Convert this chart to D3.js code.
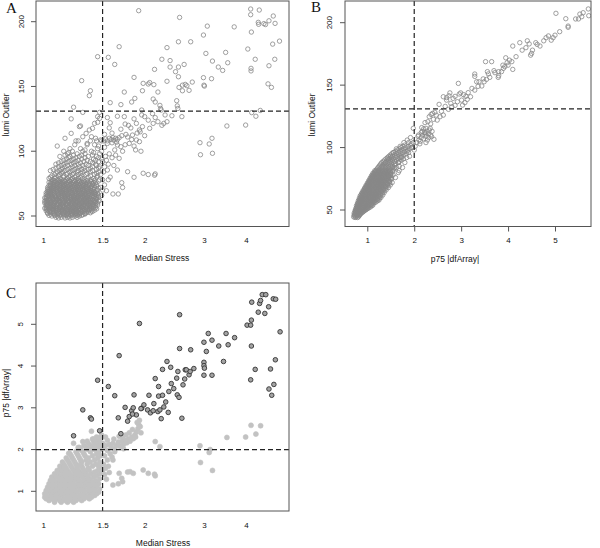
<!DOCTYPE html>
<html><head><meta charset="utf-8">
<script src="https://cdn.jsdelivr.net/npm/d3@7"></script>
<style>body{margin:0;background:#fff}svg{display:block}</style>
</head><body>
<svg id="c" width="600" height="548"></svg>
<script>
// ---------- DATA ----------
const xTicksStress = [1, 1.5, 2, 3, 4];
const yTicksLumi = [50, 100, 150, 200];
const xTicksP75 = [1, 2, 3, 4, 5];
const yTicksP75 = [1, 2, 3, 4, 5];
const thresholdStress = 1.5;
const thresholdLumi = 131;
const thresholdP75 = 2;

// Panel A: [median stress, lumi outlier] – sparse points
const aSparse = [[1.92,208.5],[2.54,203.3],[1.45,173],[1.56,172.5],[1.63,167],[1.68,180.7],[1.30,154.5],[1.38,146.7],[1.37,142.9],[1.86,157],[1.74,145.7],[1.83,138],[1.70,136],[1.58,137.5],[1.23,134],[1.31,130],[1.45,126.7],[1.47,130],[2.07,153],[2.13,151.4],[2.14,163.2],[2.25,171],[2.33,180],[2.38,170],[2.38,165],[2.47,161.4],[2.52,184.5],[2.74,184.5],[2.52,165],[2.62,167],[2.52,157.5],[2.59,151],[2.53,149.3],[2.64,151.6],[2.67,150.6],[2.71,147],[2.77,153.4],[2.59,146.7],[2.33,154],[2.19,145.7],[2.12,140.3],[2.15,138],[2.22,135.4],[2.23,133],[1.98,152.4],[2.05,151.9],[1.97,146.7],[1.87,140.8],[1.96,131.8],[2.49,139],[2.50,135],[2.51,133],[2.99,189.7],[3.07,196.6],[3.04,175.5],[3.18,169.6],[3.31,165],[3.41,162.4],[3.48,176.3],[3.53,168.3],[3.69,196],[2.99,156.8],[3.0,151],[3.01,150.3],[3.16,156],[4.05,178.9],[4.13,209.8],[4.13,205.4],[4.38,209],[4.15,192],[4.26,171],[4.14,164],[4.14,162],[4.35,199.5],[4.36,198],[4.52,198.5],[4.57,197.8],[4.68,200.7],[4.82,204.4],[4.88,198.7],[4.8,182.7],[4.87,171],[5.03,185],[4.68,166],[4.65,152],[4.76,149.3],[4.41,131.5],[4.16,129.8],[4.28,127],[2.92,106.6],[2.93,97.3],[3.11,105.6],[3.17,110],[3.18,98.4],[3.51,119.5],[3.99,120.2],[2.58,126.7],[2.25,120],[2.28,121.5],[2.41,127.4],[2.33,122.8],[1.98,83],[2.05,82],[2.14,81.5],[2.15,82.5],[1.86,79.9],[1.78,84.2],[1.71,75.7],[1.72,72],[1.61,67],[1.67,67],[1.54,69.5],[1.52,74],[1.56,78],[1.50,70],
[1.51,108],[1.53,109.5],[1.55,108],[1.57,110],[1.59,109],[1.61,110.5],[1.62,108.5],[1.64,110],[1.66,109],[1.68,110.5],[1.55,106],[1.60,106.5],[1.65,107],[1.47,62],[1.49,66],[1.48,72],[1.50,78],[1.51,84],[1.52,88],[1.50,92],[1.53,96],[1.49,100],[1.52,103],[1.55,85.5],[1.54,93],[1.57,98],[1.56,90],[1.58,80],[1.60,95],[1.62,89],[1.63,101],[1.64,97],[1.66,104.8],[1.66,85.5],[1.68,94.5],[1.70,103.5],[1.72,100],[1.75,105],[1.78,111],[1.80,106],[1.84,112.5],[1.82,118],[1.89,108.7],[1.93,107.4],[1.90,114],[1.94,115],[1.88,101],[1.95,100],[2.0,112],[1.97,119],[2.07,117.7],[2.12,121.5],[2.19,122.8],[1.93,116.4],[1.79,120],[1.74,126.7],[1.66,127],[1.89,121.5],[1.96,128],[2.0,126.7],[2.11,129],[2.24,131.8],[2.05,124],[2.15,126],[2.30,128],[1.86,125],[1.70,117],[1.75,121],[1.60,114],[1.57,118],[1.52,113],[1.58,122],[1.55,126],[1.83,109],[1.76,113],[1.71,112],[1.86,104],
[1.28,119],[1.21,113.8],[1.37,116.4],[1.42,121.5],[1.45,122.3],[1.47,125.4],[1.40,117.7],[1.34,113.8],[1.31,111.2],[1.39,111.2],[1.43,110],[1.48,108.7],[1.21,125],[1.29,119.5],[1.16,110],[1.25,108],[1.35,106],[1.46,104],[1.41,99],[1.33,101],[1.10,104],[1.19,99]];

// Panel A dense core: [lumi outlier, [median stress values]]
const aCoreRows = [
[48.5,[1.11,1.16,1.20]],
[49,[1.09,1.13,1.18,1.22,1.26]],
[50,[1.06,1.10,1.15,1.19,1.24,1.28]],
[50.5,[1.04,1.08,1.12,1.17,1.21,1.26,1.30]],
[51,[1.08,1.13,1.17,1.22,1.26,1.31]],
[51.5,[1.05,1.10,1.15,1.19,1.24,1.28,1.33]],
[52,[1.03,1.07,1.11,1.14,1.18,1.21,1.25,1.29,1.33]],
[52.5,[1.03,1.07,1.11,1.15,1.18,1.22,1.25,1.29,1.34,1.38]],
[53,[1.05,1.09,1.13,1.16,1.20,1.23,1.27,1.36]],
[53.5,[1.04,1.07,1.11,1.14,1.18,1.21,1.25,1.30,1.33,1.40]],
[54,[1.02,1.05,1.09,1.12,1.16,1.20,1.23,1.27,1.31,1.35,1.39]],
[54.5,[1.03,1.07,1.10,1.14,1.18,1.21,1.25,1.29,1.33,1.37,1.42]],
[55,[1.04,1.07,1.11,1.14,1.18,1.22,1.25,1.29,1.33,1.37]],
[55.5,[1.02,1.06,1.09,1.12,1.16,1.20,1.24,1.27,1.31,1.35,1.39,1.44]],
[56,[1.01,1.04,1.07,1.10,1.13,1.17,1.21,1.25,1.28,1.32,1.37,1.41]],
[56.5,[1.02,1.05,1.08,1.12,1.15,1.19,1.23,1.26,1.30,1.34,1.38,1.43]],
[57,[1.03,1.06,1.09,1.12,1.15,1.19,1.23,1.27,1.30,1.35,1.39]],
[57.5,[1.04,1.07,1.10,1.14,1.17,1.21,1.25,1.28,1.32,1.37,1.41]],
[58,[1.02,1.05,1.08,1.12,1.15,1.19,1.22,1.26,1.30,1.34,1.38,1.43]],
[58.5,[1.03,1.07,1.10,1.14,1.17,1.21,1.24,1.28,1.32,1.36,1.40,1.45]],
[59,[1.03,1.06,1.10,1.13,1.17,1.20,1.24,1.28,1.32,1.36,1.41]],
[59.5,[1.02,1.05,1.08,1.11,1.15,1.18,1.22,1.26,1.30,1.34,1.38,1.43]],
[60,[1.01,1.04,1.07,1.10,1.14,1.17,1.21,1.24,1.28,1.32,1.36,1.40,1.45]],
[60.5,[1.02,1.05,1.08,1.12,1.15,1.19,1.22,1.26,1.30,1.34,1.38,1.42]],
[61,[1.03,1.06,1.09,1.12,1.16,1.19,1.23,1.26,1.30,1.34,1.38,1.43]],
[61.5,[1.01,1.04,1.08,1.11,1.14,1.18,1.21,1.25,1.28,1.32,1.36,1.41,1.46]],
[62,[1.02,1.05,1.09,1.12,1.15,1.19,1.23,1.26,1.30,1.34,1.38,1.42]],
[62.5,[1.03,1.07,1.10,1.13,1.17,1.21,1.24,1.28,1.32,1.36,1.40,1.44]],
[63,[1.04,1.07,1.10,1.14,1.17,1.21,1.24,1.28,1.32,1.36,1.40]],
[63.5,[1.02,1.05,1.09,1.12,1.16,1.19,1.23,1.26,1.30,1.34,1.38,1.43]],
[64,[1.01,1.04,1.07,1.11,1.14,1.18,1.21,1.25,1.29,1.33,1.37,1.44]],
[64.5,[1.02,1.06,1.09,1.13,1.16,1.20,1.23,1.27,1.31,1.35,1.41,1.46]],
[65,[1.03,1.06,1.09,1.12,1.16,1.19,1.23,1.27,1.31,1.35,1.39,1.42]],
[65.5,[1.04,1.08,1.11,1.14,1.18,1.21,1.25,1.29,1.33,1.37,1.44]],
[66,[1.03,1.06,1.09,1.13,1.16,1.20,1.24,1.27,1.31,1.35,1.40,1.46]],
[66.5,[1.02,1.05,1.07,1.11,1.15,1.18,1.22,1.26,1.29,1.33,1.38,1.43]],
[67,[1.04,1.08,1.11,1.14,1.18,1.22,1.25,1.29,1.33,1.37,1.42]],
[67.5,[1.03,1.06,1.10,1.13,1.16,1.20,1.24,1.28,1.31,1.36,1.40,1.45]],
[68,[1.02,1.05,1.08,1.12,1.15,1.19,1.22,1.26,1.30,1.34,1.39,1.43]],
[68.5,[1.04,1.07,1.10,1.14,1.17,1.21,1.24,1.28,1.32,1.37,1.42]],
[69,[1.03,1.06,1.10,1.13,1.17,1.20,1.24,1.28,1.32,1.36,1.41]],
[69.5,[1.05,1.08,1.12,1.15,1.19,1.23,1.27,1.31,1.35,1.39,1.44]],
[70,[1.04,1.07,1.10,1.14,1.17,1.21,1.25,1.29,1.33,1.38,1.45]],
[70.5,[1.03,1.06,1.09,1.12,1.16,1.19,1.23,1.27,1.31,1.36,1.41]],
[71,[1.05,1.08,1.12,1.15,1.19,1.23,1.27,1.31,1.35,1.40]],
[71.5,[1.04,1.07,1.10,1.14,1.17,1.21,1.25,1.29,1.34,1.38,1.46]],
[72,[1.03,1.06,1.09,1.13,1.16,1.20,1.24,1.28,1.32,1.36,1.42]],
[72.5,[1.05,1.08,1.12,1.15,1.18,1.22,1.26,1.30,1.34,1.39]],
[73,[1.07,1.10,1.14,1.18,1.22,1.26,1.30,1.34,1.39,1.44]],
[73.5,[1.04,1.09,1.12,1.16,1.20,1.24,1.28,1.32,1.36,1.42]],
[74,[1.05,1.08,1.12,1.15,1.19,1.23,1.27,1.31,1.37,1.44]],
[74.5,[1.07,1.10,1.14,1.17,1.21,1.25,1.29,1.34,1.40]],
[75,[1.06,1.10,1.13,1.17,1.21,1.25,1.29,1.34,1.40]],
[75.5,[1.05,1.08,1.12,1.15,1.19,1.23,1.27,1.32,1.37,1.43]],
[76,[1.04,1.07,1.11,1.14,1.18,1.22,1.26,1.30,1.35,1.41]],
[76.5,[1.06,1.09,1.13,1.16,1.20,1.24,1.28,1.33,1.39]],
[77,[1.08,1.12,1.16,1.20,1.24,1.28,1.32,1.38,1.46]],
[77.5,[1.07,1.11,1.15,1.19,1.23,1.27,1.35,1.42]],
[78,[1.06,1.10,1.13,1.17,1.21,1.25,1.33,1.39,1.47]],
[79,[1.04,1.08,1.12,1.18,1.22,1.27,1.31,1.41]],
[80,[1.05,1.09,1.15,1.19,1.24,1.29,1.36,1.44]],
[81,[1.06,1.11,1.15,1.20,1.25,1.30,1.38,1.45]],
[82,[1.08,1.12,1.17,1.22,1.27,1.34,1.42,1.48]],
[83,[1.09,1.13,1.18,1.23,1.29,1.35,1.44]],
[84,[1.10,1.14,1.20,1.26,1.31,1.38,1.46]],
[85,[1.05,1.12,1.16,1.22,1.27,1.33,1.40]],
[86,[1.07,1.13,1.18,1.24,1.30,1.36,1.44]],
[87,[1.09,1.14,1.20,1.26,1.32,1.38,1.46]],
[88,[1.11,1.16,1.22,1.28,1.40,1.47]],
[89,[1.13,1.18,1.24,1.31,1.36,1.44]],
[90,[1.09,1.15,1.21,1.27,1.34,1.43]],
[91,[1.11,1.17,1.23,1.29,1.40]],
[92,[1.13,1.19,1.25,1.32,1.38,1.46]],
[93,[1.15,1.21,1.27,1.35,1.43]],
[94,[1.17,1.23,1.30,1.41,1.49]],
[95,[1.19,1.25,1.33,1.46]],
[96,[1.12,1.20,1.28,1.36,1.44]],
[97,[1.16,1.23,1.30,1.40]],
[98,[1.18,1.26,1.33,1.47]],
[100,[1.15,1.22,1.31,1.39]],
[102,[1.20,1.29,1.45]],
[105,[1.24,1.35,1.42]],
[108,[1.27,1.38,1.44,1.49]]];

// Panel B: [p75 |dfArray|, lumi outlier] – sparse points
const bSparse = [[5.02,207.5],[5.71,211],[5.72,205.6],[5.60,208],[5.53,206.9],[5.57,204.8],[5.50,203],[5.44,203],[5.23,203.2],[5.28,197.3],[5.28,196.3],[5.10,192.8],[4.96,188],[5.0,190],[4.86,189.4],[4.81,188],[4.76,185.5],[4.68,181.3],[4.59,184],[4.62,182.6],[4.52,178],[4.5,175.4],[4.48,174],[4.41,185.5],[4.25,184],[4.10,181.3],[4.38,180],[4.17,172.8],[4.08,168.8],[4.10,162.6],[4.0,166],[3.95,171.9],[3.93,164.8],[3.90,163.4],[3.86,160.8],[3.80,160.8],[3.79,156.2],[3.80,157.5],[3.70,161.6],[3.65,168.8],[3.52,168.8],[3.56,160.8],[3.61,156.2],[3.54,154.6],[3.49,152.7],[3.44,149.3],[3.38,152.7],[3.33,152.7],[3.29,158.9],[3.29,157],[3.29,146],[3.23,147.4],[3.15,144],[3.10,141],[3.05,142.4],[2.99,143.8],[2.94,151.4],[2.87,141],[2.76,143.8],[2.69,140],[2.92,136.7],[3.01,138],[3.13,138.6],[3.20,140.7],[3.03,134],[3.08,136],[3.36,149],[3.47,155],[3.58,159],[3.72,160],[3.89,166],[3.98,168],[4.03,170],[4.30,178],[4.45,183],[4.92,186],
[2.62,140.7],[2.74,141.5],[2.83,139.4],[2.96,142.9],[2.69,138],[2.78,135.4],[2.87,133.8],[2.53,134.6],[2.39,127.4],[2.44,128.2],[2.32,124.7],[2.41,122.6],[2.55,124.7],[2.62,126],[2.73,130.6],[2.80,132.7],[2.49,122],[2.29,120.7],[2.23,120],[2.25,115.4],[2.34,115.4],[2.37,108.7],[2.42,106.6],[2.16,116],[1.98,115.4],[2.09,110],[2.58,129],[2.66,133],[2.47,126],[2.35,119],[2.36,126.5],
[2.05,104],[2.10,106],[2.12,103],[2.15,108],[2.18,110],[2.20,107],[2.22,112],[2.25,109],[2.27,113],[2.30,111],[2.32,114],[2.28,106],[2.35,110],[2.15,112],[2.08,109],[2.38,113],[2.20,115],[2.25,104],[2.13,105],[2.17,113],[2.24,111],[2.31,108],[1.95,100],[1.68,81.5],[2.0,98],[1.90,93],[1.85,97],[1.55,96],[1.62,99],[1.70,101],[1.78,104],[1.85,106],[1.92,108],[1.50,93],[1.44,91],[1.38,88],[1.73,92],[1.58,84],[1.67,88],[2.02,101],[1.94,103]];

// Panel B dense core: [lumi outlier, [p75 values]]
const bCoreRows = [
[44,[0.74,0.79]],[44.5,[0.71,0.76,0.81]],[45.5,[0.73,0.78,0.83]],
[46,[0.72,0.77,0.82]],[46.5,[0.74,0.80,0.85]],
[47,[0.75,0.80,0.85]],[47.5,[0.72,0.77,0.82,0.87]],
[48,[0.74,0.79,0.84,0.89]],[48.5,[0.76,0.81,0.87,0.91]],
[49,[0.76,0.81,0.86,0.92]],[49.5,[0.74,0.78,0.83,0.88,0.94]],
[50,[0.75,0.80,0.85,0.90,0.96]],[50.5,[0.77,0.82,0.87,0.93,0.98]],
[51,[0.78,0.83,0.88,0.94,1.00]],[51.5,[0.76,0.80,0.85,0.91,0.96,1.02]],
[52,[0.77,0.82,0.87,0.92,0.98,1.04]],[52.5,[0.79,0.84,0.89,0.95,1.01,1.07]],
[53,[0.79,0.85,0.90,0.95,1.01]],[53.5,[0.77,0.82,0.87,0.92,0.98,1.04,1.10]],
[54,[0.79,0.84,0.89,0.94,1.00,1.06,1.12]],[54.5,[0.81,0.86,0.91,0.97,1.03,1.09]],
[55,[0.81,0.87,0.92,0.97,1.03,1.09]],[55.5,[0.79,0.84,0.89,0.94,1.00,1.06,1.13]],
[56,[0.81,0.86,0.91,0.97,1.03,1.09,1.16]],[56.5,[0.83,0.88,0.94,1.00,1.06,1.12,1.19]],
[57,[0.84,0.89,0.94,1.00,1.06,1.12]],[57.5,[0.81,0.86,0.91,0.97,1.03,1.09,1.15,1.22]],
[58,[0.83,0.88,0.93,0.99,1.05,1.11,1.18,1.25]],[58.5,[0.85,0.90,0.96,1.02,1.08,1.14,1.21]],
[59,[0.86,0.91,0.96,1.02,1.08,1.14,1.21]],[59.5,[0.83,0.88,0.93,0.99,1.05,1.11,1.17,1.26]],
[60,[0.85,0.90,0.96,1.02,1.08,1.14,1.21,1.29]],[60.5,[0.87,0.93,0.99,1.05,1.11,1.17,1.25]],
[61,[0.88,0.93,0.99,1.05,1.11,1.17,1.24]],[61.5,[0.85,0.90,0.96,1.02,1.08,1.14,1.20,1.29]],
[62,[0.87,0.93,0.99,1.05,1.11,1.17,1.24,1.33]],[62.5,[0.90,0.96,1.02,1.08,1.14,1.20,1.28]],
[63,[0.90,0.96,1.02,1.08,1.14,1.20,1.27]],[63.5,[0.88,0.93,0.99,1.05,1.11,1.17,1.23,1.32]],
[64,[0.90,0.96,1.02,1.08,1.14,1.20,1.27,1.36]],[64.5,[0.93,0.99,1.05,1.11,1.17,1.24,1.31]],
[65,[0.93,0.99,1.05,1.11,1.17,1.23,1.31]],[65.5,[0.91,0.96,1.02,1.08,1.14,1.20,1.27,1.36]],
[66,[0.93,0.99,1.05,1.11,1.17,1.23,1.31,1.40]],[66.5,[0.96,1.02,1.08,1.14,1.20,1.27,1.35]],
[67,[0.96,1.02,1.08,1.14,1.20,1.27,1.35]],[67.5,[0.94,0.99,1.05,1.11,1.17,1.23,1.30,1.40]],
[68,[0.96,1.02,1.08,1.14,1.20,1.26,1.34,1.45]],[68.5,[0.99,1.05,1.11,1.17,1.23,1.30,1.39]],
[69,[0.99,1.05,1.11,1.17,1.23,1.30,1.39]],[69.5,[0.97,1.02,1.08,1.14,1.20,1.26,1.34,1.44]],
[70,[0.99,1.05,1.11,1.17,1.23,1.30,1.38,1.49]],[70.5,[1.02,1.08,1.14,1.20,1.27,1.34,1.43]],
[71,[1.02,1.08,1.14,1.20,1.27,1.34,1.43]],[71.5,[1.00,1.05,1.11,1.17,1.23,1.30,1.38,1.48]],
[72,[1.02,1.08,1.14,1.20,1.26,1.33,1.42,1.53]],[72.5,[1.05,1.11,1.17,1.23,1.30,1.37,1.47]],
[73,[1.05,1.11,1.17,1.23,1.30,1.37,1.47]],[73.5,[1.03,1.08,1.14,1.20,1.27,1.34,1.42]],
[74,[1.05,1.11,1.17,1.23,1.30,1.37,1.46]],[74.5,[1.08,1.14,1.20,1.27,1.34,1.41,1.51]],
[75,[1.08,1.14,1.20,1.27,1.34,1.41,1.51]],[75.5,[1.06,1.11,1.17,1.24,1.31,1.38,1.46]],
[76,[1.08,1.14,1.20,1.27,1.34,1.41,1.51,1.60]],[76.5,[1.11,1.17,1.24,1.31,1.38,1.46]],
[77,[1.11,1.17,1.24,1.31,1.38,1.46]],[77.5,[1.09,1.14,1.21,1.28,1.35,1.42,1.50]],
[78,[1.11,1.17,1.24,1.31,1.38,1.45,1.55]],[78.5,[1.14,1.21,1.28,1.35,1.42,1.50]],
[79,[1.14,1.21,1.28,1.35,1.42,1.50]],[79.5,[1.12,1.18,1.25,1.32,1.39,1.46]],
[80,[1.15,1.21,1.28,1.35,1.42,1.50,1.66]],[80.5,[1.17,1.24,1.31,1.38,1.45]],
[81,[1.18,1.25,1.32,1.39,1.46,1.54]],[81.5,[1.16,1.22,1.29,1.36,1.43,1.50]],
[82,[1.19,1.25,1.32,1.39,1.46,1.55]],[83,[1.21,1.27,1.34,1.41,1.48,1.57]],
[84,[1.23,1.30,1.37,1.44,1.52,1.62,1.75]],[85,[1.25,1.32,1.39,1.46,1.54,1.68]],
[86,[1.27,1.34,1.41,1.49,1.58]],[87,[1.29,1.36,1.44,1.52,1.60]],
[88,[1.31,1.39,1.47,1.55,1.66,1.80]],[89,[1.34,1.42,1.50,1.58,1.68]],
[90,[1.37,1.45,1.53,1.62,1.72]],[91,[1.40,1.48,1.56,1.66,1.77]],
[92,[1.43,1.51,1.60,1.70,1.84]],[93,[1.46,1.54,1.63,1.73]],
[94,[1.49,1.58,1.68,1.78]],[95,[1.52,1.62,1.72,1.83]],
[96,[1.56,1.66,1.76,1.88]],[97,[1.60,1.70,1.80]],
[98,[1.64,1.74,1.86]],[99,[1.68,1.78,1.90]],
[100,[1.72,1.82,1.95]],[101,[1.76,1.87]],
[102,[1.80,1.92]],
[104,[1.88,1.98]]];

// Panel C: [median stress, p75 |dfArray|] – lumi outliers (dark)
const cOutliers = [[1.93,5.02],[2.54,5.23],[1.45,3.66],[1.56,3.51],[1.63,3.29],[1.68,4.25],[1.31,2.95],[1.38,2.76],[1.39,2.73],[1.23,2.33],[1.47,2.45],[1.70,2.38],[1.67,2.76],[1.75,3.01],[1.78,2.68],[1.80,2.79],[1.83,2.93],[1.86,3.31],[1.85,3.0],[1.89,2.83],[1.84,2.85],[1.96,2.99],[1.99,3.07],[2.04,2.95],[2.08,2.88],[2.06,3.30],[2.13,3.10],[2.15,3.70],[2.20,3.51],[2.20,3.28],[2.19,2.91],[2.24,2.74],[2.26,3.92],[2.26,3.30],[2.31,3.14],[2.33,4.11],[2.36,3.39],[2.39,3.97],[2.35,2.89],[2.40,3.58],[2.49,3.71],[2.50,3.31],[2.51,3.87],[2.53,3.25],[2.54,4.42],[2.58,2.75],[2.60,3.55],[2.63,3.69],[2.64,3.91],[2.66,3.91],[2.71,3.79],[2.74,4.39],[2.80,3.94],[2.73,3.87],[3.0,4.57],[3.0,4.09],[3.0,4.01],[3.01,3.95],[3.0,3.78],[3.05,4.35],[3.09,4.78],[3.17,4.62],[3.17,3.78],[3.32,4.48],[3.43,4.11],[3.49,4.78],[3.54,4.51],[3.70,4.68],[4.03,4.98],[4.13,4.98],[4.15,5.10],[4.16,5.53],[4.15,4.48],[4.13,3.67],[4.26,3.92],[4.35,5.29],[4.39,5.50],[4.42,5.57],[4.47,5.71],[4.58,5.71],[4.55,5.26],[4.67,5.42],[4.68,3.45],[4.77,3.30],[4.82,5.61],[4.90,5.60],[4.84,3.56],[4.89,4.15],[4.73,3.93],[5.05,4.82],[2.22,2.95],[2.28,3.02],[1.95,2.98],[2.12,2.93],[2.44,3.46]];

// Panel C: non-outliers (light) – sparse points
const cSparse = [[2.92,2.09],[2.93,1.69],[3.11,1.93],[3.13,2.0],[3.18,1.50],[3.51,2.29],[3.99,2.30],[4.14,2.58],[4.28,2.37],[4.42,2.57],[2.15,2.19],[2.22,2.07],[1.98,1.51],[2.05,1.43],[2.14,1.41],[2.15,1.37],[1.85,1.43],[1.78,1.46],[1.71,1.31],[1.72,1.23],[1.61,1.15],[1.67,1.18],[1.54,1.29],
[1.51,2.05],[1.53,2.10],[1.55,1.98],[1.57,2.12],[1.59,2.06],[1.61,2.15],[1.63,2.02],[1.65,2.10],[1.67,2.18],[1.69,2.08],[1.71,2.20],[1.73,2.12],[1.75,2.22],[1.77,2.16],[1.79,2.25],[1.81,2.20],[1.83,2.30],[1.85,2.26],[1.87,2.35],[1.89,2.42],[1.91,2.50],[1.92,2.60],[1.94,2.55],[1.90,2.65],[1.93,2.70],[1.88,2.30],[1.95,2.40],[1.84,2.48],[1.80,2.40],[1.76,2.35],[1.72,2.30],[1.68,2.32],[1.62,2.25],[1.55,2.22],[1.53,2.30],[1.50,2.15],[1.58,1.90],[1.60,1.82],[1.52,1.85],[1.55,1.75],[1.51,1.65],[1.53,1.55],[1.57,1.45],[1.52,1.40],[1.50,1.50],[1.56,1.60],[1.61,1.75],[1.68,1.43],[1.81,1.47],[1.63,1.95],[1.47,2.20],[1.45,2.08],[1.43,2.14],[1.39,2.44],[1.23,2.15],[1.31,2.19],[1.19,1.91],[1.27,2.05],[1.35,2.02],[1.41,2.25],[1.49,2.35],[1.73,2.02]];

// Panel C dense core: [p75, [median stress values]]
const cCoreRows = [
[0.74,[1.08,1.13,1.18,1.23]],
[0.78,[1.04,1.08,1.12,1.16,1.20,1.25,1.30]],
[0.82,[1.02,1.06,1.10,1.14,1.18,1.22,1.27,1.32,1.37]],
[0.86,[1.01,1.04,1.08,1.12,1.16,1.20,1.24,1.29,1.34,1.39]],
[0.90,[1.02,1.06,1.10,1.14,1.18,1.22,1.26,1.31,1.36,1.42]],
[0.94,[1.01,1.04,1.08,1.12,1.16,1.20,1.24,1.28,1.33,1.38,1.44]],
[0.98,[1.03,1.06,1.10,1.14,1.18,1.22,1.26,1.30,1.35,1.40,1.46]],
[1.02,[1.02,1.05,1.09,1.13,1.17,1.21,1.25,1.29,1.33,1.38,1.43]],
[1.06,[1.04,1.07,1.11,1.15,1.19,1.23,1.27,1.31,1.36,1.41,1.47]],
[1.10,[1.03,1.06,1.10,1.14,1.18,1.22,1.26,1.30,1.34,1.39,1.44]],
[1.14,[1.05,1.08,1.12,1.16,1.20,1.24,1.28,1.33,1.37,1.42]],
[1.18,[1.04,1.07,1.11,1.15,1.19,1.23,1.27,1.31,1.36,1.41,1.46]],
[1.22,[1.06,1.09,1.13,1.17,1.21,1.25,1.30,1.34,1.39,1.45]],
[1.26,[1.05,1.08,1.12,1.16,1.20,1.24,1.28,1.33,1.38,1.43]],
[1.30,[1.07,1.11,1.15,1.19,1.23,1.27,1.32,1.37,1.47]],
[1.34,[1.06,1.10,1.14,1.18,1.22,1.26,1.31,1.36,1.41]],
[1.38,[1.09,1.13,1.17,1.21,1.25,1.30,1.35,1.44]],
[1.42,[1.08,1.12,1.16,1.20,1.25,1.29,1.34,1.39,1.47]],
[1.46,[1.11,1.15,1.19,1.24,1.28,1.33,1.42]],
[1.50,[1.10,1.14,1.18,1.23,1.27,1.32,1.37,1.45]],
[1.55,[1.13,1.17,1.22,1.26,1.31,1.36,1.48]],
[1.60,[1.12,1.16,1.21,1.26,1.30,1.40,1.46]],
[1.65,[1.15,1.20,1.25,1.29,1.35,1.43]],
[1.70,[1.14,1.19,1.24,1.30,1.38,1.47]],
[1.75,[1.18,1.23,1.29,1.34,1.42]],
[1.80,[1.17,1.22,1.28,1.36,1.45]],
[1.85,[1.21,1.27,1.33,1.40,1.48]],
[1.90,[1.20,1.26,1.32,1.44]],
[1.95,[1.25,1.31,1.38,1.46]],
[2.00,[1.29,1.36,1.42,1.48]],
[2.05,[1.28,1.34,1.40,1.45]],
[2.10,[1.32,1.38,1.44,1.49]],
[2.15,[1.36,1.42,1.47]],
[2.20,[1.35,1.41,1.46]],
[2.25,[1.40,1.45]],
[2.30,[1.44,1.48]]];

// ---------- DRAW ----------
const svg = d3.select("#c");
const aPoints = aCoreRows.flatMap(([l, arr]) => arr.map(m => [m, l])).concat(aSparse);
const bPoints = bCoreRows.flatMap(([l, arr]) => arr.map(p => [p, l])).concat(bSparse);
const cLight = cCoreRows.flatMap(([p, arr]) => arr.map(m => [m, p])).concat(cSparse);

const tickFont = "Liberation Sans, Arial, sans-serif";

function panel(cfg) {
  const g = svg.append("g");
  const {box, x, y} = cfg;
  const clip = "clip" + cfg.id;
  g.append("clipPath").attr("id", clip).append("rect")
    .attr("x", box.l).attr("y", box.t).attr("width", box.r - box.l).attr("height", box.b - box.t);
  const pts = g.append("g").attr("clip-path", `url(#${clip})`);
  cfg.draw(pts);
  pts.append("line").attr("x1", x(cfg.vline)).attr("x2", x(cfg.vline)).attr("y1", box.t).attr("y2", box.b)
    .attr("stroke", "#222").attr("stroke-width", 1.2).attr("stroke-dasharray", "5,3");
  pts.append("line").attr("x1", box.l).attr("x2", box.r).attr("y1", y(cfg.hline)).attr("y2", y(cfg.hline))
    .attr("stroke", "#222").attr("stroke-width", 1.2).attr("stroke-dasharray", "5,3");
  g.append("rect").attr("x", box.l).attr("y", box.t).attr("width", box.r - box.l).attr("height", box.b - box.t)
    .attr("fill", "none").attr("stroke", "#555").attr("stroke-width", 1);

  const xa = d3.axisBottom(x).tickValues(cfg.xTicks).tickFormat(d => String(d))
    .tickSize(cfg.xTickMarks ? 5 : 0).tickPadding(cfg.xTickMarks ? 6 : 11);
  const gx = g.append("g").attr("transform", `translate(0,${box.b})`).call(xa);
  gx.select(".domain").remove();
  gx.selectAll("line").attr("stroke", "#555");
  gx.selectAll("text").attr("font-family", tickFont).attr("font-size", 8).attr("fill", "#111");

  const ya = d3.axisLeft(y).tickValues(cfg.yTicks).tickFormat(d => String(d)).tickSize(5).tickPadding(3);
  const gy = g.append("g").attr("transform", `translate(${box.l},0)`).call(ya);
  gy.select(".domain").remove();
  gy.selectAll("line").attr("stroke", "#555");
  gy.selectAll("text").attr("font-family", tickFont).attr("font-size", 8).attr("fill", "#111")
    .attr("text-anchor", "middle").attr("x", 0).attr("dy", 0)
    .attr("transform", function(d){ return `translate(${cfg.yLabelX - box.l},${y(d)}) rotate(-90)`; })
    .attr("y", 0);
  gy.selectAll(".tick").attr("transform", null);
  gy.selectAll(".tick line").attr("y1", d => y(d)).attr("y2", d => y(d));

  svg.append("text").attr("x", cfg.xTitle[0]).attr("y", cfg.xTitle[1]).attr("text-anchor", "middle")
    .attr("font-family", tickFont).attr("font-size", 8.5).attr("fill", "#111").text(cfg.xLabel);
  svg.append("text").attr("transform", `translate(${cfg.yTitle[0]},${cfg.yTitle[1]}) rotate(-90)`)
    .attr("text-anchor", "middle").attr("font-family", tickFont).attr("font-size", 8.5).attr("fill", "#111").text(cfg.yLabel);
  svg.append("text").attr("x", cfg.letter[0]).attr("y", cfg.letter[1])
    .attr("font-family", "Liberation Serif, Times New Roman, serif").attr("font-size", 15).attr("fill", "#111").text(cfg.id);
}

const ringStyle = sel => sel.attr("r", 2.2).attr("fill", "none").attr("stroke", "#888").attr("stroke-width", 0.8);

const boxA = {l: 36, r: 289, t: 1, b: 226.5};
const xA = d3.scaleLog().domain([1, 4]).range([43.3, 246]);
const yA = d3.scaleLinear().domain([50, 200]).range([216, 21.7]);
panel({id: "A", box: boxA, x: xA, y: yA, vline: thresholdStress, hline: thresholdLumi,
  xTicks: xTicksStress, yTicks: yTicksLumi, xTickMarks: false, yLabelX: 24,
  xLabel: "Median Stress", yLabel: "lumi Outlier", xTitle: [162, 261], yTitle: [9, 115], letter: [6, 13],
  draw: g => g.selectAll("circle").data(aPoints).join("circle")
    .attr("cx", d => xA(d[0])).attr("cy", d => yA(d[1])).call(ringStyle)});

const boxB = {l: 345, r: 591, t: 1, b: 226.5};
const xB = d3.scaleLinear().domain([1, 5]).range([367.3, 555]);
const yB = d3.scaleLinear().domain([50, 200]).range([210, 22.7]);
panel({id: "B", box: boxB, x: xB, y: yB, vline: thresholdP75, hline: thresholdLumi,
  xTicks: xTicksP75, yTicks: yTicksLumi, xTickMarks: true, yLabelX: 332,
  xLabel: "p75 |dfArray|", yLabel: "lumi Outlier", xTitle: [455, 262], yTitle: [315, 115], letter: [311, 12],
  draw: g => g.selectAll("circle").data(bPoints).join("circle")
    .attr("cx", d => xB(d[0])).attr("cy", d => yB(d[1])).call(ringStyle)});

const boxC = {l: 36, r: 289, t: 283, b: 511};
const xC = d3.scaleLog().domain([1, 4]).range([43.3, 246]);
const yC = d3.scaleLinear().domain([1, 5]).range([491.3, 324.3]);
panel({id: "C", box: boxC, x: xC, y: yC, vline: thresholdStress, hline: thresholdP75,
  xTicks: xTicksStress, yTicks: yTicksP75, xTickMarks: false, yLabelX: 23,
  xLabel: "Median Stress", yLabel: "p75 |dfArray|", xTitle: [163, 546], yTitle: [9, 393], letter: [6, 298],
  draw: g => {
    g.append("g").selectAll("circle").data(cLight).join("circle")
      .attr("cx", d => xC(d[0])).attr("cy", d => yC(d[1])).attr("r", 2.5)
      .attr("fill", "#c2c2c2").attr("stroke", "#c2c2c2").attr("stroke-width", 0.6);
    g.append("g").selectAll("circle").data(cOutliers).join("circle")
      .attr("cx", d => xC(d[0])).attr("cy", d => yC(d[1])).attr("r", 2.3)
      .attr("fill", "#a3a3a3").attr("stroke", "#333").attr("stroke-width", 0.9);
  }});
</script>
</body></html>
